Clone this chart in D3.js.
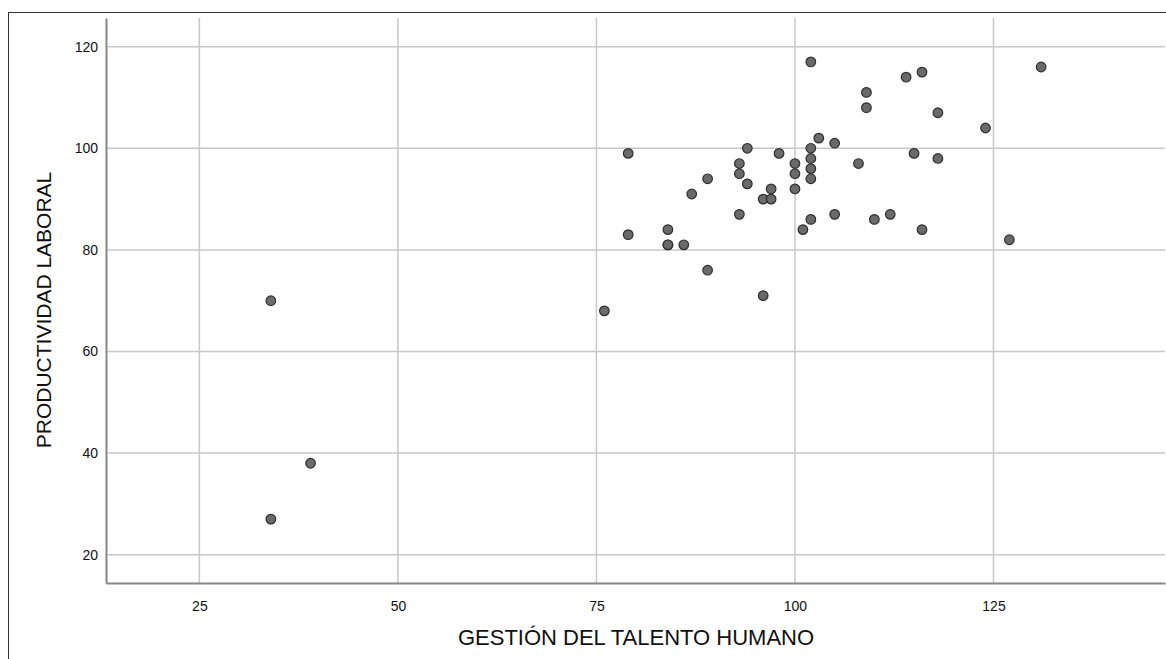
<!DOCTYPE html>
<html>
<head>
<meta charset="utf-8">
<script src="https://cdn.jsdelivr.net/npm/d3@7"></script>
<style>
  body { margin: 0; background: #fff; }
  text { font-family: "Liberation Sans", Arial, sans-serif; fill: #111; }
</style>
</head>
<body>
<div id="scatter"></div>
<script>
// GESTIÓN DEL TALENTO HUMANO (x) vs PRODUCTIVIDAD LABORAL (y)
var gestion = [34, 39, 34, 76, 79, 79, 84, 84, 84, 86, 87, 89, 89, 93, 93, 93, 94, 94, 96, 96,
    97, 97, 98, 100, 100, 100, 101, 102, 102, 102, 102, 102, 102, 103, 105, 105, 108, 109, 109, 110,
    112, 114, 115, 116, 116, 118, 118, 124, 127, 131];
var productividad = [70, 38, 27, 68, 99, 83, 84, 81, 81, 81, 91, 94, 76, 97, 95, 87, 100, 93, 90, 71,
    92, 90, 99, 97, 95, 92, 84, 117, 100, 98, 96, 94, 86, 102, 101, 87, 97, 111, 108, 86,
    87, 114, 99, 115, 84, 107, 98, 104, 82, 116];
var xTicks = [25, 50, 75, 100, 125];
var yTicks = [20, 40, 60, 80, 100, 120];

var data = gestion.map(function (g, i) {
    return { x: g, y: productividad[i] };
});

var width = 1166, height = 659;
var margin = { top: 18, right: 1, bottom: 76, left: 106 };

var svg = d3
    .select("#scatter")
    .append("svg")
    .attr("width", width)
    .attr("height", height);

// outer frame
svg.append("rect")
    .attr("x", 8.5)
    .attr("y", 12.5)
    .attr("width", width)
    .attr("height", height)
    .attr("fill", "none")
    .attr("stroke", "#333")
    .attr("stroke-width", 1);

var x = d3.scaleLinear()
    .domain([13.24, 146.6])
    .range([margin.left, width - margin.right]);

var y = d3.scaleLinear()
    .domain([14.43, 125.65])
    .range([height - margin.bottom, margin.top]);

// grid
svg.append("g")
    .selectAll("line")
    .data(xTicks)
    .enter()
    .append("line")
    .attr("x1", function (d) { return x(d); })
    .attr("x2", function (d) { return x(d); })
    .attr("y1", margin.top)
    .attr("y2", height - margin.bottom)
    .attr("stroke", "#c8c8c8")
    .attr("stroke-width", 1.5);

svg.append("g")
    .selectAll("line")
    .data(yTicks)
    .enter()
    .append("line")
    .attr("x1", margin.left)
    .attr("x2", width - margin.right)
    .attr("y1", function (d) { return y(d); })
    .attr("y2", function (d) { return y(d); })
    .attr("stroke", "#c8c8c8")
    .attr("stroke-width", 1.5);

// axes
var xAxis = svg.append("g")
    .attr("transform", "translate(0," + (height - margin.bottom) + ")")
    .call(d3.axisBottom(x).tickValues(xTicks).tickSize(0).tickPadding(18));
var yAxis = svg.append("g")
    .attr("transform", "translate(" + margin.left + ",0)")
    .call(d3.axisLeft(y).tickValues(yTicks).tickSize(0).tickPadding(8));

[xAxis, yAxis].forEach(function (a) {
    a.attr("font-size", 14);
    a.select(".domain").attr("stroke", "#888").attr("stroke-width", 2);
    a.selectAll("text")
        .style("font-family", "'Liberation Sans', Arial, sans-serif")
        .style("font-size", "14px")
        .attr("fill", "#222");
});

// points
svg.append("g")
    .selectAll("circle")
    .data(data)
    .enter()
    .append("circle")
    .attr("cx", function (d) { return x(d.x); })
    .attr("cy", function (d) { return y(d.y); })
    .attr("r", 4.8)
    .style("fill", "#6a6a6a")
    .style("stroke", "#2e2e2e")
    .style("stroke-width", 1.2);

// axis titles
svg.append("text")
    .attr("text-anchor", "middle")
    .attr("x", 636)
    .attr("y", 645)
    .style("font-size", "22px")
    .text("GESTIÓN DEL TALENTO HUMANO");

svg.append("text")
    .attr("text-anchor", "middle")
    .attr("transform", "translate(51,310) rotate(-90)")
    .style("font-size", "21px")
    .text("PRODUCTIVIDAD LABORAL");
</script>
</body>
</html>
